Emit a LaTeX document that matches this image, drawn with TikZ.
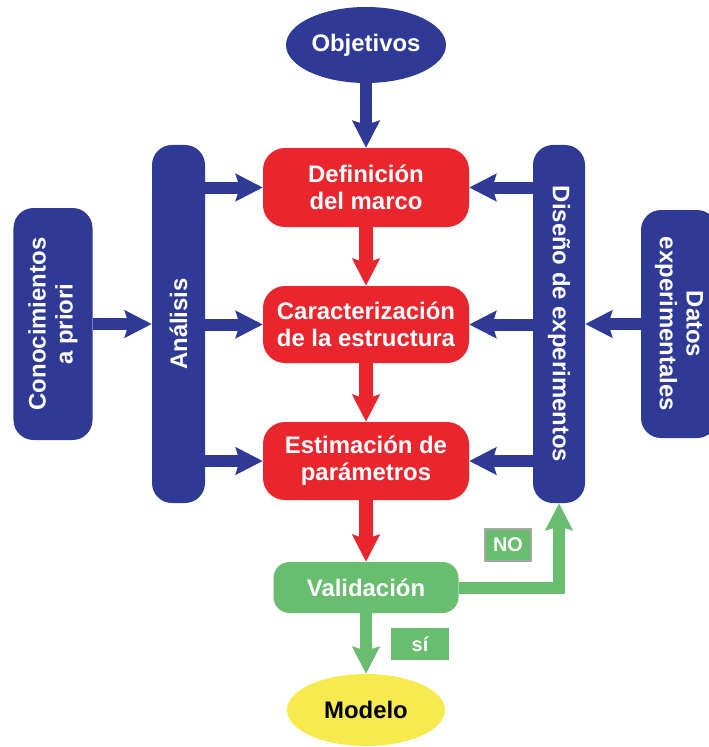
\documentclass[tikz,border=0pt]{standalone}
\usepackage{fontspec}
\setmainfont{Liberation Sans}
\usetikzlibrary{arrows.meta,shapes.geometric}
\definecolor{cblue}{RGB}{47,58,150}
\definecolor{cred}{RGB}{233,38,46}
\definecolor{cgreen}{RGB}{104,189,110}
\definecolor{cyellow}{RGB}{246,234,78}
\begin{document}
\begin{tikzpicture}[x=1bp,y=-1bp,
  txt/.style={text=white,font=\fontsize{24}{27}\selectfont\bfseries,align=center},
  box/.style={rectangle,inner sep=0pt,txt},
  redbox/.style={box,fill=cred,rounded corners=22bp,minimum width=206bp},
  bluebar/.style={box,fill=cblue,rounded corners=20bp},
  vtxtup/.style={label={[txt,rotate=90]center:#1}},
  vtxtdown/.style={label={[txt,rotate=-90]center:#1}},
  tag/.style={box,fill=cgreen,font=\fontsize{20}{22}\selectfont\bfseries},
  tip/.style={-{Stealth[length=27bp,width=27bp,inset=4bp]}},
  barr/.style={draw=cblue,line width=12bp,tip},
  rarr/.style={draw=cred,line width=14bp,tip},
  garr/.style={draw=cgreen,line width=12bp,line join=miter,tip}
]
\useasboundingbox[fill=white] (0,0) rectangle (709,747);

% top and bottom ellipses
\node[ellipse,fill=cblue,inner sep=0pt,minimum width=160bp,minimum height=76bp,txt] (obj) at (366,45) {Objetivos};
\node[ellipse,fill=cyellow,inner sep=0pt,minimum width=158bp,minimum height=72bp,txt,text=black] (mod) at (366,710) {Modelo};

% central red boxes
\node[redbox,minimum height=79bp] (def) at (366,187.5) {Definición\\del marco};
\node[redbox,minimum height=77bp] (car) at (366,324.5) {Caracterización\\de la estructura};
\node[redbox,minimum height=78bp] (est) at (366,461) {Estimación de\\parámetros};

% validation
\node[box,fill=cgreen,rounded corners=16bp,minimum width=185bp,minimum height=51bp] (val) at (366,587.5) {Validación};

% blue side bars
\node[bluebar,minimum width=53bp,minimum height=358bp,vtxtup={Análisis}] (ana) at (178.5,324) {};
\node[bluebar,minimum width=79bp,minimum height=232bp,vtxtup={Conocimientos\\a priori}] (con) at (53,324) {};
\node[bluebar,minimum width=52bp,minimum height=358bp,vtxtdown={Diseño de experimentos}] (dis) at (559,324) {};
\node[bluebar,minimum width=76bp,minimum height=228bp,vtxtdown={Datos\\experimentales}] (dat) at (679,324) {};

% tags
\node[tag,draw=gray!70,line width=1.2bp,minimum width=46bp,minimum height=32bp] (no) at (508,545) {NO};
\node[tag,minimum width=58bp,minimum height=32bp] (si) at (420,644) {sí};

% arrows
\draw[barr] (obj.south) -- (def.north);
\draw[rarr] (def.south) -- (car.north);
\draw[rarr] (car.south) -- (est.north);
\draw[rarr] (est.south) -- (val.north);
\draw[garr] (val.south) -- (mod.north);
\draw[garr] (val.east) -| (dis.south);

\draw[barr] (con.east) -- (ana.west |- con.east);
\draw[barr] (ana.east |- def.west) -- (def.west);
\draw[barr] (ana.east |- car.west) -- (car.west);
\draw[barr] (ana.east |- est.west) -- (est.west);

\draw[barr] (dat.west) -- (dis.east |- dat.west);
\draw[barr] (dis.west |- def.east) -- (def.east);
\draw[barr] (dis.west |- car.east) -- (car.east);
\draw[barr] (dis.west |- est.east) -- (est.east);
\end{tikzpicture}
\end{document}
